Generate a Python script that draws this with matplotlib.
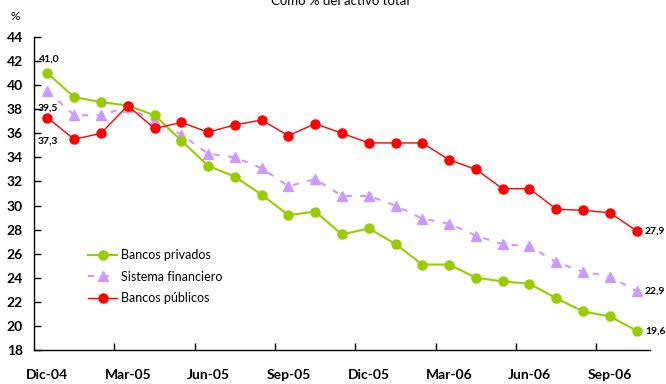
import matplotlib.pyplot as plt
import numpy as np

plt.rcParams['font.family'] = ['Lato', 'DejaVu Sans']

meses = ['Dic-04', 'Ene-05', 'Feb-05', 'Mar-05', 'Abr-05', 'May-05', 'Jun-05', 'Jul-05',
         'Ago-05', 'Sep-05', 'Oct-05', 'Nov-05', 'Dic-05', 'Ene-06', 'Feb-06', 'Mar-06',
         'Abr-06', 'May-06', 'Jun-06', 'Jul-06', 'Ago-06', 'Sep-06', 'Oct-06']
privados = [41.0, 39.0, 38.6, 38.3, 37.5, 35.4, 33.3, 32.4, 30.9, 29.2, 29.5, 27.6,
            28.1, 26.8, 25.1, 25.1, 24.0, 23.7, 23.5, 22.3, 21.2, 20.8, 19.6]
sistema = [39.5, 37.5, 37.5, 38.2, 37.0, 35.9, 34.3, 34.0, 33.1, 31.6, 32.2, 30.8,
           30.8, 30.0, 28.9, 28.5, 27.5, 26.8, 26.6, 25.3, 24.5, 24.1, 22.9]
publicos = [37.3, 35.5, 36.0, 38.3, 36.4, 36.9, 36.1, 36.7, 37.1, 35.8, 36.8, 36.0,
            35.2, 35.2, 35.2, 33.8, 33.0, 31.4, 31.4, 29.7, 29.6, 29.4, 27.9]

verde = '#99cc00'
lila = '#cc99ff'
rojo = '#ff0000'

fig = plt.figure(figsize=(6.66, 3.84), dpi=100)
ax = fig.add_axes([34 / 666, 1 - 350 / 384, 616 / 666, 313 / 384])

x = np.arange(len(meses))
ax.plot(x, privados, color=verde, lw=1.5, marker='o', ms=6.5, label='Bancos privados', zorder=3)
ax.plot(x, sistema, color=lila, lw=1.5, ls=(0, (3, 4)), marker='^', ms=6.5,
        label='Sistema financiero', zorder=2)
ax.plot(x, publicos, color=rojo, lw=1, marker='o', ms=6.5, label='Bancos públicos', zorder=4)

# valores inicial y final
ax.annotate('41,0', (x[0], privados[0]), xytext=(-6, 7), textcoords='offset points',
            fontsize=7.5, fontweight='bold', va='bottom')
ax.annotate('39,5', (x[0], sistema[0]), xytext=(-7, -12), textcoords='offset points',
            fontsize=7.5, fontweight='bold', va='center')
ax.annotate('37,3', (x[0], publicos[0]), xytext=(-7, -17), textcoords='offset points',
            fontsize=7.5, fontweight='bold', va='center')
for serie in (privados, sistema, publicos):
    ax.annotate(f'{serie[-1]:.1f}'.replace('.', ','), (x[-1], serie[-1]), xytext=(6, 0),
                textcoords='offset points', fontsize=7.5, fontweight='bold', va='center')

ax.set_xlim(-0.5, len(meses) - 0.5)
ax.set_ylim(18, 44)
ax.set_yticks(range(18, 45, 2))
ax.set_xticks(x[::3])
ax.set_xticklabels(meses[::3])
ax.set_xticks(np.arange(2.5, len(meses), 3), minor=True)
ax.tick_params(axis='x', which='major', length=0, pad=14)
ax.tick_params(axis='x', which='minor', direction='in', length=5, width=1)
ax.tick_params(axis='y', direction='in', length=5, width=1, pad=8)
for lab in ax.get_xticklabels() + ax.get_yticklabels():
    lab.set_fontweight('bold')
    lab.set_fontsize(10)
for s in ('top', 'right'):
    ax.spines[s].set_visible(False)
for s in ('left', 'bottom'):
    ax.spines[s].set_linewidth(1)

ax.legend(loc='upper left', bbox_to_anchor=(0.088, 0.322), frameon=False, fontsize=9,
          borderpad=0, borderaxespad=0, handlelength=2.3, labelspacing=0.75,
          handletextpad=0.3)

fig.text(15 / 666, 1 - 16 / 384, '%', fontsize=8.5, ha='center', va='center')
fig.text(340 / 666, 1 - 1 / 384, 'Como % del activo total', fontsize=9.5, ha='center', va='center')

fig.savefig('out.png', dpi=100)
